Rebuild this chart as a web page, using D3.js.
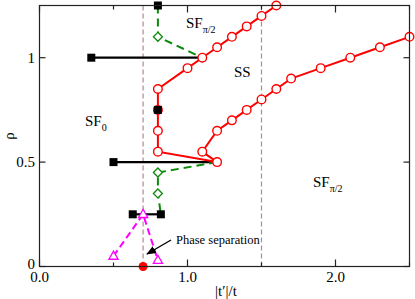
<!DOCTYPE html>
<html>
<head>
<meta charset="utf-8">
<script src="https://cdn.jsdelivr.net/npm/d3@7"></script>
<style>
  body { margin: 0; background: #fff; }
  svg text { font-family: "Liberation Serif", "DejaVu Serif", serif; fill: #000; }
</style>
</head>
<body>
<svg id="chart" width="415" height="299"></svg>
<script>
// phase boundary (red, open circles), one connected path
var redX   = [1.6, 1.5, 1.4, 1.3, 1.2, 1.1, 1.0, 0.8, 0.8, 0.8, 0.8, 1.2, 1.1, 1.2, 1.3, 1.4, 1.5, 1.6, 1.7, 1.9, 2.1, 2.3, 2.5];
var redRho = [1.25, 1.2, 1.15, 1.1, 1.05, 1.0, 0.95, 0.85, 0.75, 0.65, 0.55, 0.5, 0.55, 0.65, 0.7, 0.75, 0.8, 0.85, 0.9, 0.95, 1.0, 1.05, 1.1];

// black solid segments with squares
var blackX1 = [0.35, 0.5, 0.63];
var blackX2 = [1.1, 1.2, 0.82];
var blackRho = [1.0, 0.5, 0.25];
var squareX   = [0.35, 0.5, 0.63, 0.82, 0.8, 0.8];
var squareRho = [1.0, 0.5, 0.25, 0.25, 1.25, 0.75];

// green dashed with diamonds
var greenTopX   = [0.8, 0.8, 1.1];
var greenTopRho = [1.25, 1.1, 1.0];
var greenBotX   = [1.2, 0.8, 0.8, 0.82];
var greenBotRho = [0.5, 0.45, 0.35, 0.25];
var diamondX   = [0.8, 0.8, 0.8];
var diamondRho = [1.1, 0.45, 0.35];

// magenta dashed with triangles
var magX   = [0.5, 0.7, 0.8];
var magRho = [0.05, 0.25, 0.03];

// single red dot and vertical guides
var dotX = [0.7], dotRho = [0];
var guideX = [0.7, 1.5];

var xTicks = [0, 0.5, 1, 1.5, 2, 2.5];
var xLabels = [0, 1, 2];
var yTicks = [0, 0.5, 1];

var svg = d3.select('#chart');
var x = d3.scaleLinear().domain([0, 2.5]).range([39.5, 409.5]);
var y = d3.scaleLinear().domain([0, 1.25]).range([266.5, 5.5]);

var line = d3.line().x(function(d) { return x(d[0]); }).y(function(d) { return y(d[1]); });
function pairs(a, b) { return a.map(function(v, i) { return [v, b[i]]; }); }

// vertical dashed guides
svg.selectAll('.guide').data(guideX).enter().append('line')
    .attr('x1', function(d) { return x(d); }).attr('x2', function(d) { return x(d); })
    .attr('y1', y(0)).attr('y2', y(1.25))
    .attr('stroke', '#b08a8a').attr('stroke-width', 1.2).attr('stroke-dasharray', '5,3');

// black segments
svg.selectAll('.seg').data(blackRho).enter().append('line')
    .attr('x1', function(d, i) { return x(blackX1[i]); })
    .attr('x2', function(d, i) { return x(blackX2[i]); })
    .attr('y1', function(d) { return y(d); }).attr('y2', function(d) { return y(d); })
    .attr('stroke', '#000').attr('stroke-width', 2.2);

// green dashed
[pairs(greenTopX, greenTopRho), pairs(greenBotX, greenBotRho)].forEach(function(p) {
    svg.append('path').datum(p).attr('d', line).attr('fill', 'none')
        .attr('stroke', '#0a8a0a').attr('stroke-width', 2).attr('stroke-dasharray', '8,5');
});

// magenta dashed
svg.append('path').datum(pairs(magX, magRho)).attr('d', line).attr('fill', 'none')
    .attr('stroke', '#ff00ff').attr('stroke-width', 2).attr('stroke-dasharray', '7,4');

// red line + circles
svg.append('path').datum(pairs(redX, redRho)).attr('d', line).attr('fill', 'none')
    .attr('stroke', '#ff0000').attr('stroke-width', 2);
svg.selectAll('.rc').data(pairs(redX, redRho)).enter().append('circle')
    .attr('cx', function(d) { return x(d[0]); }).attr('cy', function(d) { return y(d[1]); })
    .attr('r', 4.3).attr('fill', '#fff').attr('stroke', '#ff0000').attr('stroke-width', 1.4);

// diamonds
svg.selectAll('.dm').data(pairs(diamondX, diamondRho)).enter().append('path')
    .attr('d', 'M0,-4.5L4.5,0L0,4.5L-4.5,0Z')
    .attr('transform', function(d) { return 'translate(' + x(d[0]) + ',' + y(d[1]) + ')'; })
    .attr('fill', '#fff').attr('stroke', '#0a8a0a').attr('stroke-width', 1.3);

// triangles
svg.selectAll('.tr').data(pairs(magX, magRho)).enter().append('path')
    .attr('d', 'M0,-5L4.6,3.2L-4.6,3.2Z')
    .attr('transform', function(d) { return 'translate(' + x(d[0]) + ',' + y(d[1]) + ')'; })
    .attr('fill', '#fff').attr('stroke', '#ff00ff').attr('stroke-width', 1.3);

// squares
svg.selectAll('.sq').data(pairs(squareX, squareRho)).enter().append('rect')
    .attr('x', function(d) { return x(d[0]) - 4; }).attr('y', function(d) { return y(d[1]) - 4; })
    .attr('width', 8).attr('height', 8).attr('fill', '#000');

// red dot
svg.selectAll('.dot').data(pairs(dotX, dotRho)).enter().append('circle')
    .attr('cx', function(d) { return x(d[0]); }).attr('cy', function(d) { return y(d[1]); })
    .attr('r', 4.5).attr('fill', '#ff0000');

// frame
svg.append('rect').attr('x', x(0)).attr('y', y(1.25))
    .attr('width', x(2.5) - x(0)).attr('height', y(0) - y(1.25))
    .attr('fill', 'none').attr('stroke', '#222').attr('stroke-width', 1.2);

// ticks (inward)
xTicks.forEach(function(t) {
    var len = (t % 1 === 0) ? 7 : 4;
    svg.append('line').attr('x1', x(t)).attr('x2', x(t)).attr('y1', y(0)).attr('y2', y(0) - len)
        .attr('stroke', '#222').attr('stroke-width', 1.2);
    svg.append('line').attr('x1', x(t)).attr('x2', x(t)).attr('y1', y(1.25)).attr('y2', y(1.25) + len)
        .attr('stroke', '#222').attr('stroke-width', 1.2);
});
yTicks.forEach(function(t) {
    svg.append('line').attr('x1', x(0)).attr('x2', x(0) + 6).attr('y1', y(t)).attr('y2', y(t))
        .attr('stroke', '#222').attr('stroke-width', 1.2);
    svg.append('line').attr('x1', x(2.5)).attr('x2', x(2.5) - 6).attr('y1', y(t)).attr('y2', y(t))
        .attr('stroke', '#222').attr('stroke-width', 1.2);
});

// tick labels
svg.selectAll('.xl').data(xLabels).enter().append('text')
    .attr('x', function(d) { return x(d); }).attr('y', 282)
    .attr('text-anchor', 'middle').attr('font-size', 15)
    .text(function(d) { return d3.format('.1f')(d); });
svg.selectAll('.yl').data(yTicks).enter().append('text')
    .attr('x', 35).attr('y', function(d) { return d === 0 ? y(d) + 2 : y(d) + 5; })
    .attr('text-anchor', 'end').attr('font-size', 15)
    .text(function(d) { return d3.format('')(d); });

// axis titles
svg.append('text').attr('x', 226).attr('y', 296).attr('text-anchor', 'middle')
    .attr('font-size', 15).text('|t′|/t');
svg.append('text').attr('transform', 'translate(14,136) rotate(-90)')
    .attr('text-anchor', 'middle').attr('font-size', 15).text('ρ');

// region labels
function region(px, py, main, sub) {
    var t = svg.append('text').attr('x', px).attr('y', py).attr('font-size', 15);
    t.append('tspan').text(main);
    t.append('tspan').attr('font-size', 10).attr('dy', 5).text(sub);
}
region(85, 126, 'SF', '0');
region(186, 28, 'SF', 'π/2');
region(313, 187, 'SF', 'π/2');
svg.append('text').attr('x', 234).attr('y', 77).attr('font-size', 15).text('SS');

// phase separation annotation
svg.append('defs').append('marker').attr('id', 'ah')
    .attr('viewBox', '0 0 10 10').attr('refX', 9).attr('refY', 5)
    .attr('markerWidth', 7).attr('markerHeight', 7).attr('orient', 'auto')
    .append('path').attr('d', 'M0,1L10,5L0,9Z').attr('fill', '#000');
svg.append('line').attr('x1', 171).attr('y1', 240).attr('x2', 147).attr('y2', 254)
    .attr('stroke', '#000').attr('stroke-width', 1.4).attr('marker-end', 'url(#ah)');
svg.append('text').attr('x', 176).attr('y', 244).attr('font-size', 12.5).text('Phase separation');
</script>
</body>
</html>
